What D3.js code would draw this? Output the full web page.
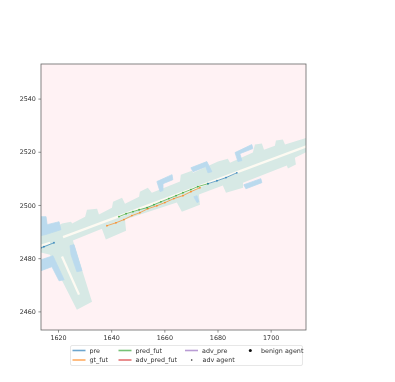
<!DOCTYPE html>
<html>
<head>
<meta charset="utf-8">
<script src="https://cdn.jsdelivr.net/npm/d3@7"></script>
<style>
  html, body { margin: 0; padding: 0; background: #fff; }
  svg { display: block; will-change: transform; }
  text { font-family: "DejaVu Sans", sans-serif; fill: #333; }
</style>
</head>
<body>
<svg id="chart" width="395" height="382"></svg>
<script>
const xTicks = [1620, 1640, 1660, 1680, 1700];
const yTicks = [2460, 2480, 2500, 2520, 2540];
const xDomain = [1613.6, 1713.3];
const yDomain = [2453, 2553];

// drivable area outline, map units
const road = [
  [1613.6,2488.5],[1621.5,2493.0],[1624.9,2493.7],[1625.3,2493.0],[1630.2,2495.6],[1630.9,2498.2],
  [1634.7,2498.6],[1635.4,2496.4],[1640.3,2499.0],[1640.7,2501.2],[1644.1,2502.7],[1645.2,2500.5],
  [1650.5,2503.1],[1650.8,2505.0],[1653.8,2506.5],[1655.3,2504.6],[1665.9,2508.8],[1666.2,2511.4],
  [1670.4,2512.9],[1670.8,2512.1],[1680.2,2516.3],[1683.9,2517.4],[1684.7,2515.9],[1693.3,2519.7],
  [1694.1,2522.7],[1696.7,2523.1],[1697.5,2520.8],[1701.6,2522.3],[1702.0,2524.2],[1704.6,2524.6],
  [1705.4,2522.7],[1713.6,2525.3],[1713.6,2520.0],[1709.1,2517.8],[1709.5,2515.2],[1706.5,2513.7],
  [1706.1,2514.8],[1689.6,2508.4],[1689.6,2506.5],[1683.2,2504.6],[1682.0,2507.3],[1673.0,2503.9],
  [1673.4,2500.1],[1666.6,2497.5],[1664.7,2500.9],[1645.2,2494.5],[1645.6,2490.3],[1638.0,2487.0],
  [1636.5,2491.1],[1625.6,2486.6],[1632.8,2463.6],[1627.1,2460.6],[1618.1,2478.3],[1617.0,2481.3],
  [1613.6,2482.1]
];

// parking / walkway blocks
const blocks = [
  [[1613.6,2495.6],[1615.5,2495.6],[1615.9,2492.6],[1620.4,2493.7],[1621.1,2490.7],[1615.1,2488.8],[1613.6,2488.5]],
  [[1613.6,2479.4],[1618.1,2480.9],[1622.3,2471.9],[1620.4,2471.5],[1617.7,2476.8],[1613.6,2475.3]],
  [[1624.5,2484.7],[1626.0,2485.1],[1629.0,2475.3],[1627.1,2474.9],[1624.9,2481.3]],
  [[1657.2,2508.8],[1662.9,2511.4],[1663.2,2509.5],[1659.5,2508.0],[1659.5,2505.4],[1658.4,2505.0]],
  [[1670.0,2514.0],[1676.0,2516.3],[1677.9,2512.5],[1676.4,2512.1],[1675.6,2514.4],[1670.8,2512.5]],
  [[1686.6,2519.7],[1692.9,2522.7],[1693.3,2521.2],[1688.4,2519.3],[1689.2,2516.7],[1687.7,2516.3]],
  [[1689.9,2507.6],[1696.3,2509.9],[1696.7,2508.4],[1690.7,2506.1]],
  [[1671.1,2503.1],[1672.3,2503.5],[1673.0,2501.2],[1672.3,2500.9]]
];

const lanes = [
  [[1621.9,2487.9],[1713.6,2522.1]],
  [[1613.6,2484.7],[1617.0,2485.8]],
  [[1621.5,2480.6],[1627.9,2466.3]]
];

const preA = [[1613.6,2483.9],[1614.7,2484.3],[1618.5,2485.8]];
const preB = [[1676.4,2508.0],[1679.8,2509.1],[1683.2,2510.3],[1687.3,2512.1]];
const gtFut = [
  [1638.4,2492.2],[1641.8,2493.3],[1644.8,2494.5],[1647.8,2496.0],[1650.8,2497.1],[1653.8,2498.6],
  [1657.2,2499.7],[1660.2,2500.9],[1663.6,2502.4],[1667.0,2503.5],[1670.0,2505.0],[1673.4,2506.5]
];
const predFut = [
  [1642.9,2495.6],[1645.6,2496.7],[1648.2,2497.5],[1650.5,2498.2],[1653.5,2499.0],[1656.1,2500.1],
  [1658.7,2501.2],[1661.7,2502.4],[1664.4,2503.5],[1667.0,2504.6],[1670.0,2505.8],[1672.6,2506.9],
  [1676.4,2508.0]
];

const lineLegend = [
  { name: 'pre', color: '#1f77b4', col: 0, row: 0 },
  { name: 'gt_fut', color: '#ff7f0e', col: 0, row: 1 },
  { name: 'pred_fut', color: '#2ca02c', col: 1, row: 0 },
  { name: 'adv_pred_fut', color: '#d62728', col: 1, row: 1 },
  { name: 'adv_pre', color: '#9467bd', col: 2, row: 0 }
];

const margin = { left: 41, right: 306, top: 64, bottom: 330 };
const svg = d3.select('#chart');

const x = d3.scaleLinear().domain(xDomain).range([margin.left, margin.right]);
const y = d3.scaleLinear().domain(yDomain).range([margin.bottom, margin.top]);

svg.append('defs').append('clipPath').attr('id', 'plot')
  .append('rect')
  .attr('x', margin.left).attr('y', margin.top)
  .attr('width', margin.right - margin.left)
  .attr('height', margin.bottom - margin.top);

svg.append('rect')
  .attr('x', margin.left).attr('y', margin.top)
  .attr('width', margin.right - margin.left)
  .attr('height', margin.bottom - margin.top)
  .attr('fill', '#fff2f4');

const g = svg.append('g').attr('clip-path', 'url(#plot)');
const line = d3.line().x(d => x(d[0])).y(d => y(d[1]));

g.append('path')
  .attr('d', line(road) + 'Z')
  .attr('fill', '#d7e9e5');

g.selectAll('path.block')
  .data(blocks)
  .join('path')
  .attr('class', 'block')
  .attr('d', d => line(d) + 'Z')
  .attr('fill', '#bbdaee')
  .attr('stroke', '#bbdaee')
  .attr('stroke-width', 0.8);

g.selectAll('path.lane')
  .data(lanes)
  .join('path')
  .attr('class', 'lane')
  .attr('d', line)
  .attr('fill', 'none')
  .attr('stroke', '#fdfaf2')
  .attr('stroke-width', 2.3);

// trajectories
const tracks = [
  { pts: gtFut, color: '#ff7f0e' },
  { pts: predFut, color: '#2ca02c' },
  { pts: preA, color: '#1f77b4' },
  { pts: preB, color: '#1f77b4' }
];

tracks.forEach(t => {
  g.append('path')
    .attr('d', line(t.pts))
    .attr('fill', 'none')
    .attr('stroke', t.color)
    .attr('stroke-opacity', 0.7)
    .attr('stroke-width', 0.9);
  g.selectAll(null)
    .data(t.pts)
    .join('circle')
    .attr('cx', d => x(d[0]))
    .attr('cy', d => y(d[1]))
    .attr('r', 0.9)
    .attr('fill', t.color)
    .attr('fill-opacity', 0.75);
});

// axes
const xAxis = d3.axisBottom(x).tickValues(xTicks).tickSize(2.6).tickPadding(2.5).tickFormat(d3.format('d'));
const yAxis = d3.axisLeft(y).tickValues(yTicks).tickSize(2.6).tickPadding(2.5).tickFormat(d3.format('d'));

const xg = svg.append('g').attr('transform', `translate(0,${margin.bottom})`).call(xAxis);
const yg = svg.append('g').attr('transform', `translate(${margin.left},0)`).call(yAxis);

[xg, yg].forEach(a => {
  a.select('.domain').remove();
  a.selectAll('line').attr('stroke', '#444').attr('stroke-width', 0.6);
  a.selectAll('text').style('font-size', '6.4px').style('fill', '#333');
});

svg.append('rect')
  .attr('x', margin.left).attr('y', margin.top)
  .attr('width', margin.right - margin.left)
  .attr('height', margin.bottom - margin.top)
  .attr('fill', 'none')
  .attr('stroke', '#666')
  .attr('stroke-width', 0.8);

// legend
const legend = svg.append('g');
legend.append('rect')
  .attr('x', 70.5).attr('y', 345.5)
  .attr('width', 232).attr('height', 20)
  .attr('rx', 1.5)
  .attr('fill', '#fff')
  .attr('stroke', '#ddd')
  .attr('stroke-width', 0.7);

const colX = [72.5, 118.5, 185];
const rowY = [350.5, 360];

lineLegend.forEach(d => {
  legend.append('line')
    .attr('x1', colX[d.col]).attr('x2', colX[d.col] + 13)
    .attr('y1', rowY[d.row]).attr('y2', rowY[d.row])
    .attr('stroke', d.color)
    .attr('stroke-opacity', 0.65)
    .attr('stroke-width', 1.6);
  legend.append('text')
    .attr('x', colX[d.col] + 17)
    .attr('y', rowY[d.row] + 2.2)
    .style('font-size', '6.4px')
    .text(d.name);
});

legend.append('circle').attr('cx', 191.7).attr('cy', rowY[1]).attr('r', 0.8).attr('fill', '#222');
legend.append('text').attr('x', 202.5).attr('y', rowY[1] + 2.2).style('font-size', '6.4px').text('adv agent');
legend.append('circle').attr('cx', 250.3).attr('cy', rowY[0]).attr('r', 1.5).attr('fill', '#111');
legend.append('text').attr('x', 261).attr('y', rowY[0] + 2.2).style('font-size', '6.4px').text('benign agent');
</script>
</body>
</html>
